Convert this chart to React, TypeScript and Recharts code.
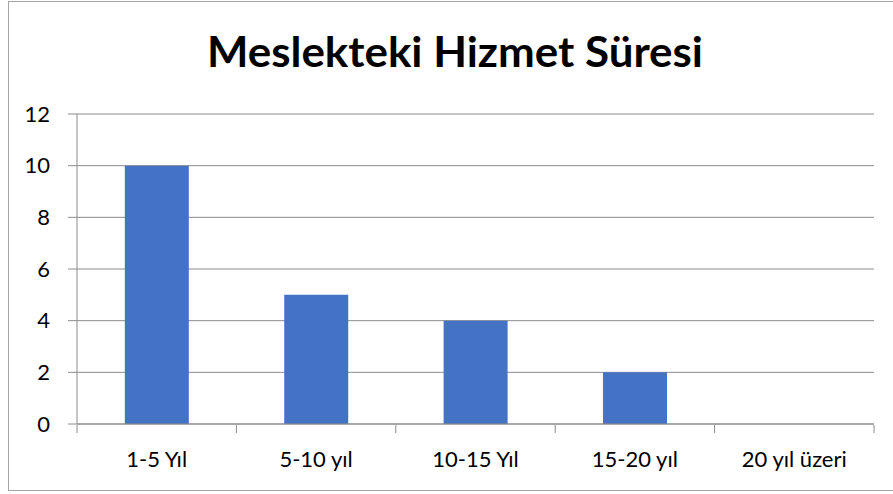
import { BarChart, Bar, XAxis, YAxis, CartesianGrid } from 'recharts';

const categories = ['1-5 Yıl', '5-10 yıl', '10-15 Yıl', '15-20 yıl', '20 yıl üzeri'];
const counts = [10, 5, 4, 2, 0];
const yTicks = [0, 2, 4, 6, 8, 10, 12];
const boundaryTicks = [0, 1, 2, 3, 4, 5];

const data = categories.map((name, i) => ({ name, value: counts[i], pos: i + 0.5 }));

const FONT = 'Lato, "Open Sans", sans-serif';
const GRID = '#8c8c8c';

export default function App() {
  return (
    <div style={{ position: 'fixed', left: 0, top: 0, width: 893, height: 494, overflow: 'hidden', background: '#fff' }}>
      <div
        style={{
          position: 'absolute', left: 8, top: 1, width: 900, height: 490,
          border: '1px solid #a6a6a6', boxSizing: 'border-box',
        }}
      />
      <svg width={893} height={100} style={{ position: 'absolute', left: 0, top: 0 }}>
        <text
          x={455}
          y={67}
          textAnchor="middle"
          fontFamily={FONT}
          fontWeight="bold"
          fontSize={42}
          fill="#000"
          textLength={496}
          lengthAdjust="spacingAndGlyphs"
        >
          Meslekteki Hizmet Süresi
        </text>
      </svg>
      <div style={{ position: 'absolute', left: 0, top: 0 }}>
        <BarChart
          width={893}
          height={494}
          data={data}
          margin={{ top: 114, right: 19, bottom: 31, left: 17 }}
          barCategoryGap="30%"
        >
          <CartesianGrid vertical={false} stroke={GRID} />
          {/* category labels; tiny height so the boundary-tick axis sits on the plot bottom */}
          <XAxis
            dataKey="name"
            height={1}
            axisLine={{ stroke: GRID }}
            tickLine={false}
            tickSize={0}
            tickMargin={27}
            tick={{ fill: '#000', fontSize: 22, fontFamily: FONT }}
          />
          <XAxis
            xAxisId="bounds"
            type="number"
            dataKey="pos"
            domain={[0, 5]}
            ticks={boundaryTicks}
            allowDataOverflow
            height={38}
            axisLine={false}
            tickLine={{ stroke: GRID }}
            tickSize={8}
            tick={() => <g />}
          />
          <YAxis
            width={60}
            domain={[0, 12]}
            ticks={yTicks}
            axisLine={{ stroke: GRID }}
            tickLine={{ stroke: GRID }}
            tickSize={9}
            tickMargin={18}
            tick={{ fill: '#000', fontSize: 22, fontFamily: FONT }}
          />
          <Bar dataKey="value" fill="#4472C4" isAnimationActive={false} />
        </BarChart>
      </div>
    </div>
  );
}
